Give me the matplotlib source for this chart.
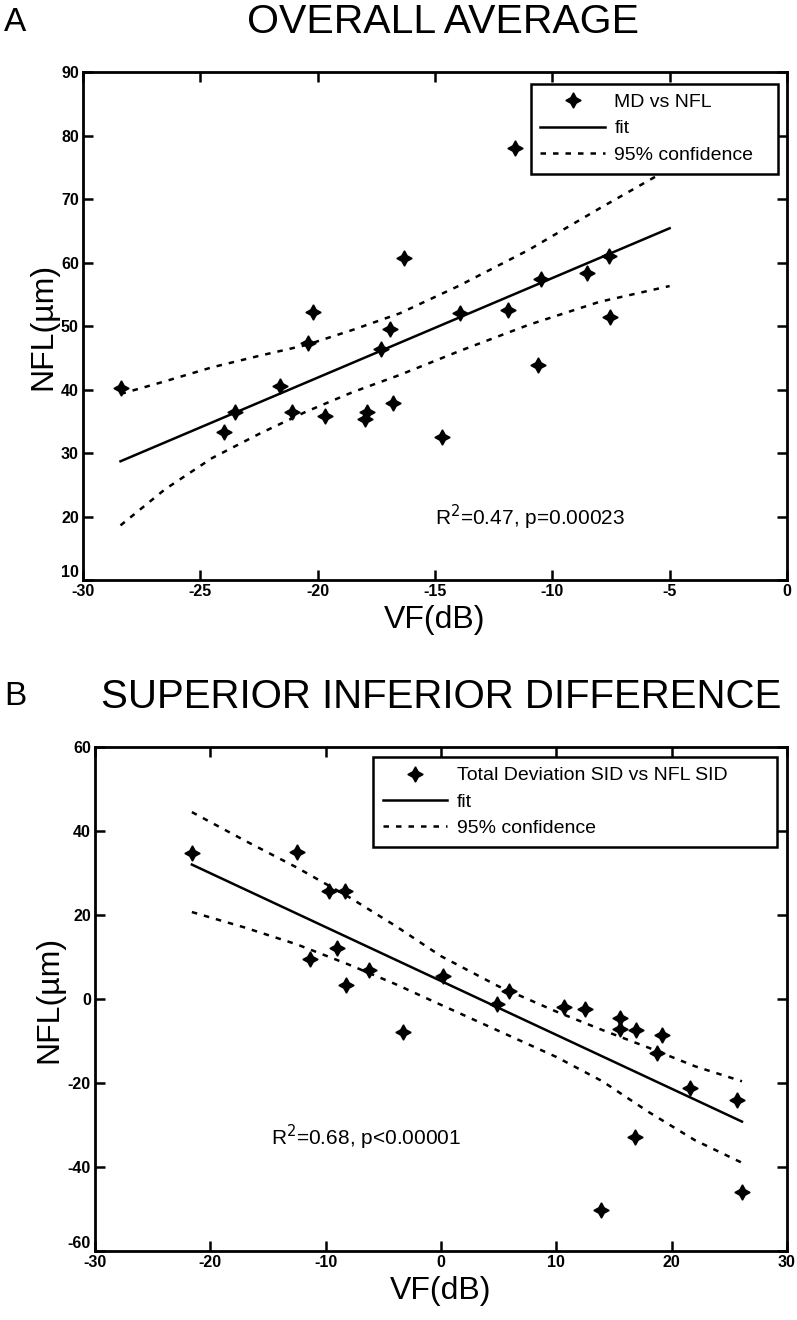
import matplotlib
matplotlib.use("Agg")
import matplotlib.pyplot as plt

plt.rcParams['font.family'] = ['Liberation Sans', 'DejaVu Sans']

# panel A: MD vs NFL
md_x = [-28.4, -24.0, -23.5, -21.6, -21.1, -20.4, -20.2, -19.7, -18.0, -17.9,
        -17.3, -16.9, -16.8, -16.3, -14.7, -13.95, -11.9, -11.6, -10.6, -10.5,
        -8.5, -7.6, -7.55]
md_y = [40.3, 33.3, 36.4, 40.5, 36.4, 47.4, 52.2, 35.8, 35.3, 36.5,
        46.4, 49.6, 37.9, 60.7, 32.5, 52.0, 52.5, 78.0, 43.8, 57.4,
        58.4, 61.0, 51.5]
fit_a_x = [-28.4, -5.0]
fit_a_y = [28.7, 65.4]
ci_a_x = [-28.4, -26.5, -24.5, -22.5, -20.5, -18.5, -16.5, -14.0, -11.0, -8.0, -5.0]
ci_a_hi = [39.3, 41.3, 43.5, 45.3, 47.0, 49.4, 52.0, 56.3, 62.0, 68.5, 74.8]
ci_a_lo = [18.6, 24.3, 29.2, 33.0, 36.5, 39.6, 42.3, 46.0, 50.2, 53.8, 56.3]

# panel B: total deviation SID vs NFL SID
sid_x = [-21.6, -12.5, -9.7, -8.35, -11.4, -9.0, -8.2, -6.2, -3.3, 0.2,
         4.85, 5.9, 10.7, 12.5, 15.5, 15.5, 16.9, 19.2, 18.7, 21.6,
         25.7, 16.8, 13.9, 26.1]
sid_y = [34.7, 35.1, 25.7, 25.7, 9.5, 12.2, 3.4, 6.8, -7.9, 5.5,
         -1.3, 2.0, -1.8, -2.4, -4.6, -7.1, -7.5, -8.5, -12.9, -21.2,
         -24.0, -32.9, -50.2, -46.0]
fit_b_x = [-21.6, 26.1]
fit_b_y = [32.0, -29.2]
ci_b_x = [-21.6, -17.0, -12.5, -8.0, -4.0, 0.0, 5.0, 10.0, 14.0, 18.0, 22.0, 26.1]
ci_b_hi = [44.5, 37.7, 31.3, 24.3, 17.5, 10.2, 3.0, -3.0, -7.4, -11.6, -16.0, -19.6]
ci_b_lo = [20.7, 17.0, 13.0, 8.2, 3.6, -1.4, -7.6, -13.8, -19.6, -26.9, -33.6, -39.0]

star = (4, 1, 0)
tick_font = dict(family=['Liberation Sans Narrow', 'Liberation Sans', 'DejaVu Sans'],
                 weight='bold', size=11.5)


def style_axes(ax, xticks, yticks):
    ax.set_xticks(xticks)
    ax.set_yticks(yticks)
    ax.set_xticklabels([str(t) for t in xticks], **tick_font)
    ylabels = ax.set_yticklabels([str(t) for t in yticks], **tick_font)
    # lowest y label sits just above the corner, as in the original
    ylabels[0].set_verticalalignment('bottom')
    ax.tick_params(direction='in', length=7, width=1.8, top=True, right=True,
                   pad=3)
    for s in ax.spines.values():
        s.set_linewidth(2.0)
    ax.set_xlabel('VF(dB)', fontsize=23, labelpad=4)
    ax.set_ylabel('NFL(\u00b5m)', fontsize=23, labelpad=2)


def draw_panel(ax, x, y, label, fx, fy, cx, chi, clo):
    ax.plot(x, y, linestyle='none', marker=star, color='black', markersize=11,
            label=label)
    ax.plot(fx, fy, color='black', linewidth=1.8, label='fit')
    ax.plot(cx, chi, color='black', linestyle=(0, (2.2, 2.8)), linewidth=1.8,
            label='95% confidence')
    ax.plot(cx, clo, color='black', linestyle=(0, (2.2, 2.8)), linewidth=1.8)


def add_legend(ax, box):
    leg = ax.legend(loc='upper left', bbox_to_anchor=box, mode='expand',
                    fontsize=14, fancybox=False, edgecolor='black', framealpha=1,
                    handlelength=3.3, handletextpad=0.5, borderpad=0.5,
                    labelspacing=0.45, borderaxespad=0)
    leg.get_frame().set_linewidth(1.8)


fig = plt.figure(figsize=(7.97, 13.2), dpi=100)

ax1 = fig.add_axes([0.1041, 0.5606, 0.8833, 0.3848])
draw_panel(ax1, md_x, md_y, 'MD vs NFL', fit_a_x, fit_a_y, ci_a_x, ci_a_hi, ci_a_lo)
ax1.set_xlim(-30, 0)
ax1.set_ylim(10, 90)
style_axes(ax1, [-30, -25, -20, -15, -10, -5, 0], [10, 20, 30, 40, 50, 60, 70, 80, 90])
add_legend(ax1, (0.636, 0.0, 0.351, 0.977))
ax1.text(-15, 19.8, 'R$^2$=0.47, p=0.00023', fontsize=15, va='center')
fig.text(0.005, 0.983, 'A', fontsize=24, va='center')
fig.text(0.556, 0.983, 'OVERALL AVERAGE', fontsize=29.5, ha='center', va='center')

ax2 = fig.add_axes([0.1192, 0.0523, 0.8682, 0.3818])
draw_panel(ax2, sid_x, sid_y, 'Total Deviation SID vs NFL SID', fit_b_x, fit_b_y,
           ci_b_x, ci_b_hi, ci_b_lo)
ax2.set_xlim(-30, 30)
ax2.set_ylim(-60, 60)
style_axes(ax2, [-30, -20, -10, 0, 10, 20, 30], [-60, -40, -20, 0, 20, 40, 60])
add_legend(ax2, (0.4017, 0.0, 0.5838, 0.98))
ax2.text(-14.7, -33, 'R$^2$=0.68, p<0.00001', fontsize=15, va='center')
fig.text(0.005, 0.472, 'B', fontsize=24, va='center')
fig.text(0.553, 0.472, 'SUPERIOR INFERIOR DIFFERENCE', fontsize=29, ha='center',
         va='center')

fig.savefig('out.png', dpi=100)
